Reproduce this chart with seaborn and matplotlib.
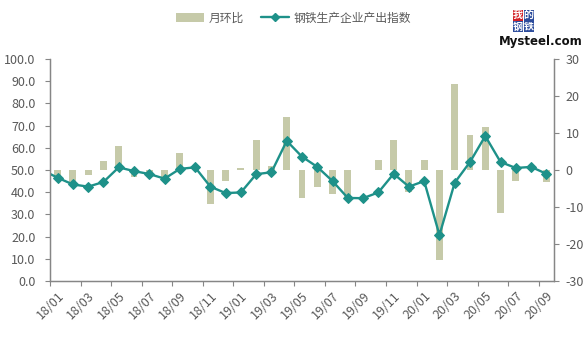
import matplotlib
matplotlib.use("Agg")
import matplotlib.pyplot as plt
import seaborn as sns
import numpy as np
import pandas as pd
from matplotlib.lines import Line2D
from matplotlib.patches import Patch, Rectangle

sns.set_theme(style="white")
plt.rcParams["font.family"] = ["Noto Sans CJK SC", "DejaVu Sans"]

# Monthly series, 2017/12 (lead-in point only) through 2020/09
months = ["17/12",
          "18/01", "18/02", "18/03", "18/04", "18/05", "18/06", "18/07", "18/08", "18/09", "18/10", "18/11", "18/12",
          "19/01", "19/02", "19/03", "19/04", "19/05", "19/06", "19/07", "19/08", "19/09", "19/10", "19/11", "19/12",
          "20/01", "20/02", "20/03", "20/04", "20/05", "20/06", "20/07", "20/08", "20/09"]
output_index = [50.0,
                46.5, 43.5, 42.5, 44.6, 51.2, 49.5, 48.2, 46.1, 50.5, 51.2, 42.5, 39.6,
                39.9, 48.1, 49.0, 63.1, 56.0, 51.4, 45.0, 37.4, 37.3, 39.9, 48.3, 42.5,
                45.0, 20.7, 44.3, 53.6, 65.3, 53.6, 50.9, 51.4, 48.3]
mom_change = [None,
              -1.8, -3.2, -1.4, 2.5, 6.5, -1.8, -1.0, -1.8, 4.6, 0.7, -9.2, -2.9,
              0.6, 8.1, 1.0, 14.3, -7.5, -4.5, -6.4, -7.6, -0.1, 2.7, 8.1, -5.9,
              2.7, -24.3, 23.2, 9.5, 11.5, -11.7, -2.9, 0.5, -3.2]

left_ticks = [0, 10, 20, 30, 40, 50, 60, 70, 80, 90, 100]
right_ticks = [-30, -20, -10, 0, 10, 20, 30]

bar_color = "#C6CAA9"
line_color = "#1E9189"
text_color = "#595959"
axis_color = "#868686"

pos = np.arange(len(months)) - 1  # 17/12 sits at -1, outside the visible range
df = pd.DataFrame({"pos": pos, "month": months, "index": output_index, "mom": mom_change})
bars_df = df.dropna(subset=["mom"])

W, H = 587, 341
fig = plt.figure(figsize=(W / 100, H / 100), dpi=100)
ax = fig.add_axes([50 / W, 1 - 281 / H, (554 - 50) / W, (281 - 59) / H])

# Bars (right-hand scale) drawn first so the line sits above them
sns.barplot(data=bars_df, x="pos", y="mom", native_scale=True, width=0.45,
            color=bar_color, saturation=1, edgecolor="none", ax=ax)
ax.set_ylim(-30, 30)
ax.set_xlim(-0.5, len(months) - 1.5)

ax2 = ax.twinx()
sns.lineplot(data=df, x="pos", y="index", color=line_color, linewidth=1.7,
             marker="D", markersize=4.6, markeredgecolor=line_color, ax=ax2)
ax2.set_ylim(0, 100)
ax2.set_xlim(-0.5, len(months) - 1.5)

# Bars use the right-hand scale, the index uses the left-hand scale
ax.yaxis.tick_right()
ax.yaxis.set_label_position("right")
ax2.yaxis.tick_left()
ax2.yaxis.set_label_position("left")
ax.set_yticks(right_ticks)
ax.set_yticklabels([str(t) for t in right_ticks])
ax2.set_yticks(left_ticks)
ax2.set_yticklabels([f"{t:.1f}" for t in left_ticks])

for a in (ax, ax2):
    a.set_xlabel("")
    a.set_ylabel("")
    a.grid(False)
    a.spines["top"].set_visible(False)
    for side in ("left", "right", "bottom"):
        a.spines[side].set_color(axis_color)
        a.spines[side].set_linewidth(0.9)

ax.tick_params(axis="y", which="major", direction="out", length=3.5, width=0.8,
               color=axis_color, labelcolor=text_color, labelsize=9, pad=5,
               left=False, right=True, labelleft=False, labelright=True)
ax2.tick_params(axis="y", which="major", direction="out", length=3.5, width=0.8,
                color=axis_color, labelcolor=text_color, labelsize=9, pad=7,
                left=True, right=False, labelleft=True, labelright=False)

# Category labels every two months, tick marks on the boundaries between months
label_pos = bars_df["pos"].values[::2]
label_txt = list(bars_df["month"].values[::2])
ax2.set_xticks([])
ax.set_xticks(label_pos)
ax.set_xticklabels(label_txt, rotation=45, ha="right", va="top", rotation_mode="anchor")
ax.set_xticks(label_pos - 0.5, minor=True)
ax.tick_params(axis="x", which="major", length=0, labelsize=9, labelcolor=text_color, pad=6)
ax.tick_params(axis="x", which="minor", direction="out", length=3.5, width=0.8,
               color=axis_color, bottom=True)

# Legend
handles = [Patch(facecolor=bar_color, edgecolor="none"),
           Line2D([0], [0], color=line_color, linewidth=1.7, marker="D",
                  markersize=4.2, markeredgecolor=line_color)]
fig.legend(handles, ["月环比", "钢铁生产企业产出指数"], loc="center",
           bbox_to_anchor=(0.5, 0.947), ncol=2, frameon=False, fontsize=8.5,
           handlelength=2.4, handleheight=0.7, columnspacing=1.4, handletextpad=0.4,
           labelcolor=text_color)

# Site mark in the top-right corner: 2x2 coloured character blocks over the domain name
blocks = [("我", "#D21F26", 512.5, 9.5), ("的", "#2C4C9C", 523.5, 9.5),
          ("钢", "#2C4C9C", 512.5, 21.0), ("铁", "#2C4C9C", 523.5, 21.0)]
bw, bh = 10.5, 11.0
for ch, bg, px, py in blocks:
    fig.patches.append(Rectangle((px / W, 1 - (py + bh) / H), bw / W, bh / H,
                                 transform=fig.transFigure, facecolor=bg,
                                 edgecolor="none", zorder=1))
    fig.text((px + bw / 2) / W, 1 - (py + bh / 2 + 0.3) / H, ch, color="white",
             fontsize=7.2, fontweight="bold", ha="center", va="center", zorder=2)
fig.text(541 / W, 1 - 42 / H, "Mysteel.com", color="#111111", fontsize=8.5,
         fontweight="bold", ha="center", va="center", family=["DejaVu Sans"])

fig.savefig("out.png", dpi=100)
